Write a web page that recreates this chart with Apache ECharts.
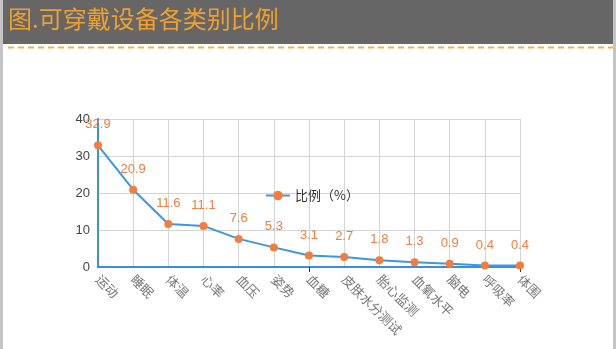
<!DOCTYPE html>
<html><head><meta charset="utf-8">
<script src="https://cdn.jsdelivr.net/npm/echarts@6/dist/echarts.min.js"></script>
<style>html,body{margin:0;padding:0;background:#fff;}#c{width:616px;height:349px;}</style>
</head><body><div id="c"></div>
<script>
const titleText = '图.可穿戴设备各类别比例';
const categories = ['运动','睡眠','体温','心率','血压','姿势','血糖','皮肤水分测试','胎心监测','血氧水平','脑电','呼吸率','体围'];
const values = [32.9, 20.9, 11.6, 11.1, 7.6, 5.3, 3.1, 2.7, 1.8, 1.3, 0.9, 0.4, 0.4];
const seriesName = '比例（%）';
const yTicks = [0, 10, 20, 30, 40];

const chart = echarts.init(document.getElementById('c'), null, {renderer:'canvas'});
chart.setOption({
  backgroundColor: '#fff',
  animation: false,
  graphic: [
    {type:'rect', shape:{x:0,y:0,width:616,height:44}, style:{fill:'#666666'}, z:0},
    {type:'rect', shape:{x:0,y:0,width:3,height:349}, style:{fill:'#c4c4c4'}, z:1},
    {type:'rect', shape:{x:613,y:0,width:3,height:349}, style:{fill:'#c4c4c4'}, z:1},
    {type:'line', shape:{x1:8,y1:47.5,x2:613,y2:47.5}, style:{stroke:'#f0b048', lineWidth:2, lineDash:[6,4]}, z:1},
    {type:'text', left:8, top:7, style:{text:titleText, fill:'#f0a030', font:'24px "Noto Sans CJK SC"'}, z:2}
  ],
  legend: {
    data:[seriesName], left:260, top:184, itemWidth:24, itemHeight:12, itemGap:6,
    textStyle:{color:'#333', fontSize:13, fontFamily:'"Noto Sans CJK SC"'}
  },
  grid: {left:98, right:96, top:119, bottom:82},
  xAxis: {
    type:'category', data:categories, boundaryGap:false,
    axisLine:{lineStyle:{color:'#3a8ee0', width:2}},
    axisTick:{show:true, interval:function(i){return i===6||i===12;}, lineStyle:{color:'#333'}, length:5},
    axisLabel:{rotate:-45, color:'#777', fontSize:13, fontFamily:'"Noto Sans CJK SC"', margin:10, interval:0},
    splitLine:{show:true, lineStyle:{color:'#d4d4d4'}}
  },
  yAxis: {
    type:'value', min:yTicks[0], max:yTicks[yTicks.length-1], interval:10,
    axisLine:{show:true, lineStyle:{color:'#3a8ee0', width:2}},
    axisTick:{show:false},
    axisLabel:{color:'#444', fontSize:13, fontFamily:'Arial, "Liberation Sans"', margin:8},
    splitLine:{lineStyle:{color:'#d4d4d4'}}
  },
  series: [{
    name:seriesName, type:'line', data:values,
    symbol:'circle', symbolSize:8,
    itemStyle:{color:'#f47c3c'},
    lineStyle:{color:'#3a96e8', width:2},
    label:{show:true, position:'top', distance:10, color:'#f47c3c', fontSize:13, fontFamily:'Arial, "Liberation Sans"'}
  }]
});
</script></body></html>
